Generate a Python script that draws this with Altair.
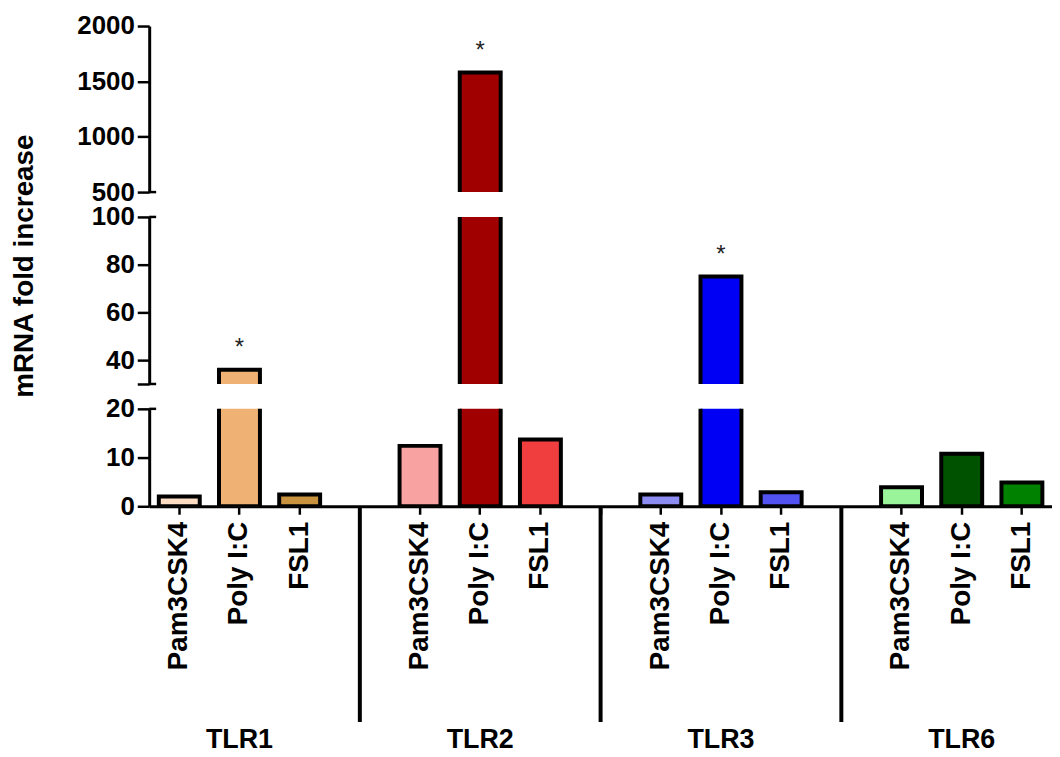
import altair as alt
import pandas as pd

groups = ["TLR1", "TLR2", "TLR3", "TLR6"]
treatments = ["Pam3CSK4", "Poly I:C", "FSL1"]
values = {
    "TLR1": [2.0, 36.0, 2.4],
    "TLR2": [12.4, 1580.0, 13.7],
    "TLR3": [2.4, 75.0, 2.9],
    "TLR6": [3.9, 10.8, 4.9],
}
significant = {
    "TLR1": [False, True, False],
    "TLR2": [False, True, False],
    "TLR3": [False, True, False],
    "TLR6": [False, False, False],
}
colors = {
    "TLR1": ["#FCDCC2", "#F0B274", "#C8923E"],
    "TLR2": ["#F8A2A2", "#A00000", "#F03E3E"],
    "TLR3": ["#8C8CF2", "#0000F5", "#5252F2"],
    "TLR6": ["#9AF59A", "#005200", "#008200"],
}
# broken y-axis segments: (low, high, tick values)
segments = [
    (500, 2000, [500, 1000, 1500, 2000]),
    (30, 100, [30, 40, 60, 80, 100]),
    (0, 20, [0, 5, 10, 15, 20]),
]
seg_heights = [167, 168, 98]

# ---- tables built from the lists ----
domain = []
rows = []
seps = []
for gi, g in enumerate(groups):
    for ti, t in enumerate(treatments):
        k = f"{g}|{t}"
        domain.append(k)
        rows.append({"key": k, "group": g, "treatment": t,
                     "value": values[g][ti], "sig": significant[g][ti],
                     "color": colors[g][ti]})
    if gi < len(groups) - 1:
        s = f"sep{gi + 1}"
        domain.append(s)
        seps.append({"key": s})
df = pd.DataFrame(rows)
sep_df = pd.DataFrame(seps)
grp_df = pd.DataFrame([{"key": f"{g}|{treatments[1]}", "label": g} for g in groups])

FONT = "Liberation Sans"
W = 908

xscale = alt.Scale(domain=domain, paddingInner=0.32, paddingOuter=0.16)


def panel(idx):
    lo, hi, ticks = segments[idx]
    h = seg_heights[idx]
    bottom = idx == len(segments) - 1
    middle = idx == 1
    yscale = alt.Scale(domain=[lo, hi], nice=False, zero=False)
    if bottom:
        xaxis = alt.Axis(title=None, labelAngle=270, labelFontSize=28,
                         labelExpr="indexof(datum.value, 'sep') == 0 ? '' : split(datum.value, '|')[1]",
                         tickSize=8, labelPadding=7, domainWidth=3, tickWidth=2.5)
    else:
        xaxis = None
    yaxis = alt.Axis(values=ticks, title="mRNA fold increase" if middle else None,
                     format="d",
                     labelExpr="datum.value == 30 ? '' : datum.label",
                     titleY=49, titlePadding=53, titleFontSize=28,
                     titleFont=FONT, titleFontWeight="bold", titleColor="black")
    base = alt.Chart(df)
    bars = base.mark_bar(clip=True, stroke="black", strokeWidth=4).encode(
        x=alt.X("key:N", scale=xscale, axis=xaxis, sort=domain),
        y=alt.Y("value:Q", scale=yscale, axis=yaxis),
        y2=alt.datum(0),
        color=alt.Color("color:N", scale=None),
    )
    stars = base.transform_filter(
        (alt.datum.sig == True) & (alt.datum.value >= lo) & (alt.datum.value <= hi)
    ).mark_text(text="*", fontSize=24, color="#222222", dy=-22, font=FONT).encode(
        x=alt.X("key:N", scale=xscale, sort=domain),
        y=alt.Y("value:Q", scale=yscale),
    )
    # small rightward marks at the axis breaks
    if idx == 0:
        brk_vals = [lo]
    elif idx == 1:
        brk_vals = [lo, hi]
    else:
        brk_vals = [hi]
    brk = alt.Chart(pd.DataFrame({"b": brk_vals})).mark_rule(
        color="black", strokeWidth=2.5).encode(
        y=alt.Y("b:Q", scale=yscale), x=alt.value(0), x2=alt.value(7))
    layers = [bars, stars, brk]
    if bottom:
        sep = alt.Chart(sep_df).mark_rule(color="black", strokeWidth=4).encode(
            x=alt.X("key:N", scale=xscale, sort=domain),
            y=alt.value(h + 1), y2=alt.value(h + 217))
        glab = alt.Chart(grp_df).mark_text(
            fontSize=27, fontWeight="bold", font=FONT, color="black",
            baseline="middle").encode(
            x=alt.X("key:N", scale=xscale, sort=domain),
            y=alt.value(h + 235), text="label:N")
        layers += [sep, glab]
    return alt.layer(*layers).properties(width=W, height=h)


chart = alt.vconcat(*[panel(i) for i in range(3)], spacing=25, bounds="flush").resolve_scale(
    y="independent"
).properties(
    padding={"left": 2, "top": 3, "right": 0, "bottom": 0}
).configure_view(stroke=None).configure_axis(
    labelFont=FONT, labelFontWeight="bold", labelFontSize=26, labelColor="black",
    domainColor="black", domainWidth=3, tickColor="black", tickWidth=2.5,
    tickSize=12, labelPadding=3, grid=False,
)

chart.save("out.html", embed_options={"renderer": "svg", "actions": False})
